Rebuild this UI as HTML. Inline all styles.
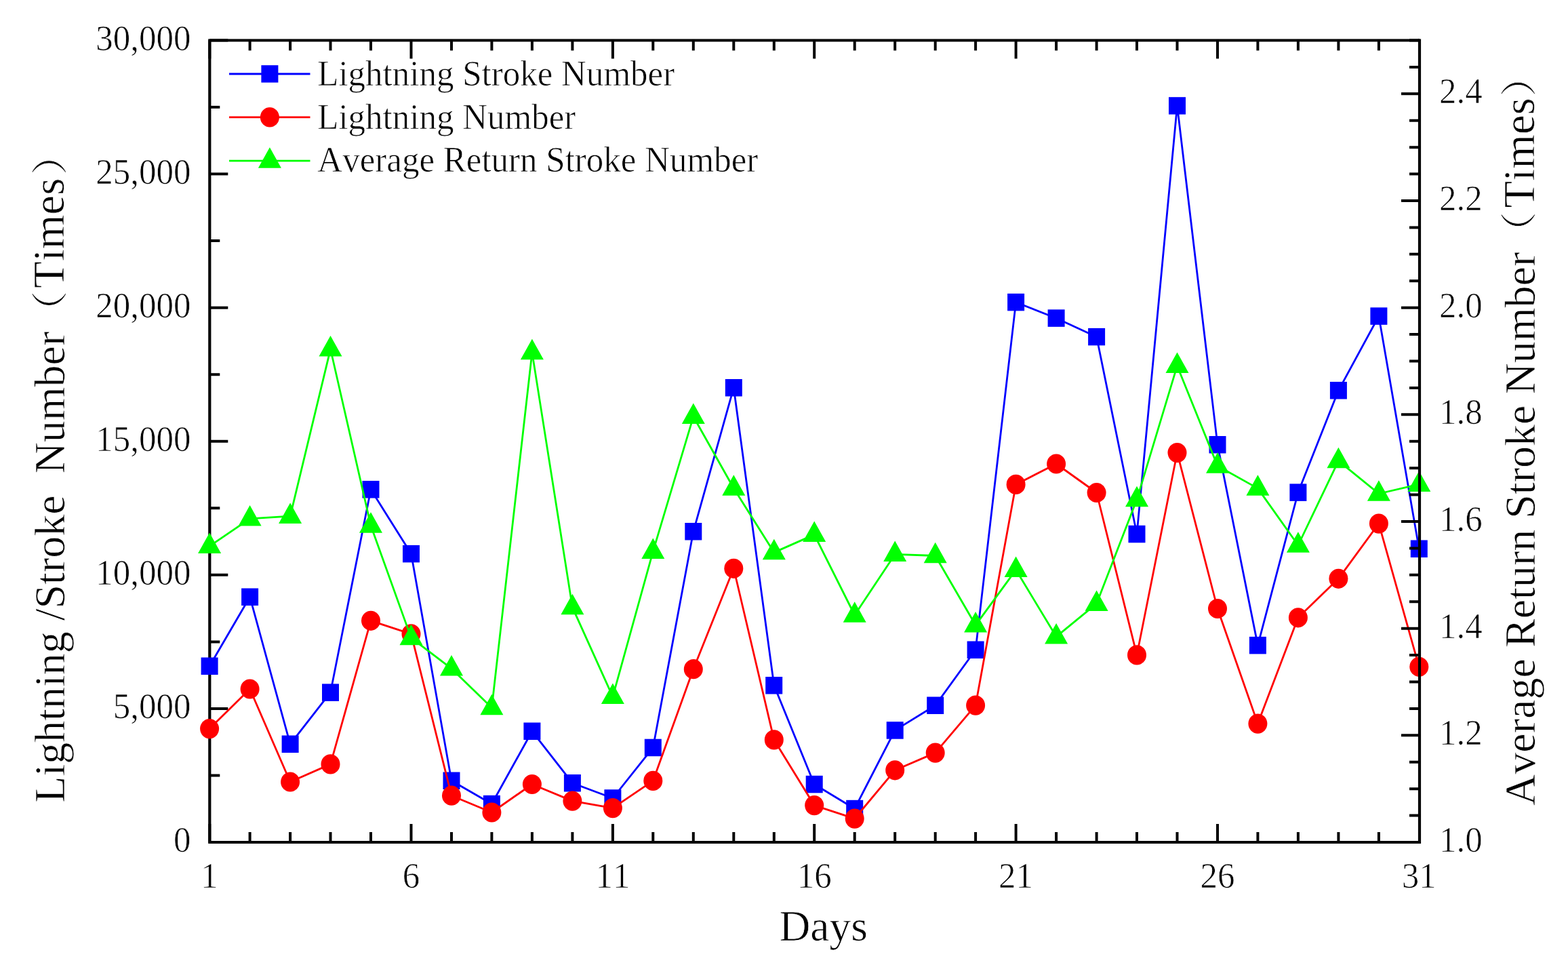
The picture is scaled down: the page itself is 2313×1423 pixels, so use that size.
<!DOCTYPE html>
<html><head><meta charset="utf-8"><style>
html,body{margin:0;padding:0;background:#fff;}
body{width:2313px;height:1423px;overflow:hidden;}
svg{display:block;}
text{white-space:pre;font-kerning:none;font-feature-settings:"kern" 0;font-family:"Liberation Serif","Noto Serif CJK SC",serif;fill:#000;stroke:#fff;stroke-width:0.7px;}
.cjk{font-family:"Noto Serif CJK SC","Liberation Serif",serif;}
</style></head><body>
<svg width="2313" height="1423" viewBox="0 0 2313 1423">
<rect width="2313" height="1423" fill="#fff"/>
<path d="M309.3,1242.0V1215.0M309.3,59.5V86.5M368.6,1242.0V1227.0M368.6,59.5V74.5M428.1,1242.0V1227.0M428.1,59.5V74.5M487.5,1242.0V1227.0M487.5,59.5V74.5M547.0,1242.0V1227.0M547.0,59.5V74.5M606.5,1242.0V1215.0M606.5,59.5V86.5M666.0,1242.0V1227.0M666.0,59.5V74.5M725.4,1242.0V1227.0M725.4,59.5V74.5M784.9,1242.0V1227.0M784.9,59.5V74.5M844.4,1242.0V1227.0M844.4,59.5V74.5M903.9,1242.0V1215.0M903.9,59.5V86.5M963.3,1242.0V1227.0M963.3,59.5V74.5M1022.8,1242.0V1227.0M1022.8,59.5V74.5M1082.3,1242.0V1227.0M1082.3,59.5V74.5M1141.8,1242.0V1227.0M1141.8,59.5V74.5M1201.2,1242.0V1215.0M1201.2,59.5V86.5M1260.7,1242.0V1227.0M1260.7,59.5V74.5M1320.2,1242.0V1227.0M1320.2,59.5V74.5M1379.7,1242.0V1227.0M1379.7,59.5V74.5M1439.1,1242.0V1227.0M1439.1,59.5V74.5M1498.6,1242.0V1215.0M1498.6,59.5V86.5M1558.1,1242.0V1227.0M1558.1,59.5V74.5M1617.6,1242.0V1227.0M1617.6,59.5V74.5M1677.0,1242.0V1227.0M1677.0,59.5V74.5M1736.5,1242.0V1227.0M1736.5,59.5V74.5M1796.0,1242.0V1215.0M1796.0,59.5V86.5M1855.4,1242.0V1227.0M1855.4,59.5V74.5M1914.9,1242.0V1227.0M1914.9,59.5V74.5M1974.4,1242.0V1227.0M1974.4,59.5V74.5M2033.9,1242.0V1227.0M2033.9,59.5V74.5M2094.0,1242.0V1215.0M2094.0,59.5V86.5M309.3,1242.0H336.3M309.3,1143.5H324.3M309.3,1044.9H336.3M309.3,946.4H324.3M309.3,847.8H336.3M309.3,749.3H324.3M309.3,650.8H336.3M309.3,552.2H324.3M309.3,453.7H336.3M309.3,355.1H324.3M309.3,256.6H336.3M309.3,158.0H324.3M309.3,59.5H336.3" stroke="#000" stroke-width="4.0" fill="none"/>
<path d="M2094.0,59.5H309.3V1242.0H2094.0" fill="none" stroke="#000" stroke-width="4.2" stroke-linejoin="miter"/>
<polyline points="309.1,982.3 368.6,880.2 428.1,1097.3 487.5,1021.1 547.0,721.8 606.5,816.6 666.0,1151.2 725.4,1185.5 784.9,1078.3 844.4,1154.7 903.9,1177.0 963.3,1102.4 1022.8,783.8 1082.3,571.7 1141.8,1010.7 1201.2,1156.5 1260.7,1192.5 1320.2,1076.9 1379.7,1040.3 1439.1,958.2 1498.6,445.7 1558.1,469.2 1617.6,496.7 1677.0,787.5 1736.5,156.0 1796.0,655.7 1855.4,951.6 1914.9,726.1 1974.4,575.8 2033.9,466.2 2093.3,809.3" fill="none" stroke="#0000ff" stroke-width="2.8" stroke-linejoin="round"/>
<rect x="296.6" y="969.5" width="25.0" height="25.5" fill="#0000ff"/><rect x="356.1" y="867.5" width="25.0" height="25.5" fill="#0000ff"/><rect x="415.6" y="1084.5" width="25.0" height="25.5" fill="#0000ff"/><rect x="475.0" y="1008.4" width="25.0" height="25.5" fill="#0000ff"/><rect x="534.5" y="709.0" width="25.0" height="25.5" fill="#0000ff"/><rect x="594.0" y="803.9" width="25.0" height="25.5" fill="#0000ff"/><rect x="653.5" y="1138.5" width="25.0" height="25.5" fill="#0000ff"/><rect x="712.9" y="1172.8" width="25.0" height="25.5" fill="#0000ff"/><rect x="772.4" y="1065.5" width="25.0" height="25.5" fill="#0000ff"/><rect x="831.9" y="1142.0" width="25.0" height="25.5" fill="#0000ff"/><rect x="891.4" y="1164.2" width="25.0" height="25.5" fill="#0000ff"/><rect x="950.8" y="1089.7" width="25.0" height="25.5" fill="#0000ff"/><rect x="1010.3" y="771.0" width="25.0" height="25.5" fill="#0000ff"/><rect x="1069.8" y="559.0" width="25.0" height="25.5" fill="#0000ff"/><rect x="1129.2" y="998.0" width="25.0" height="25.5" fill="#0000ff"/><rect x="1188.7" y="1143.8" width="25.0" height="25.5" fill="#0000ff"/><rect x="1248.2" y="1179.8" width="25.0" height="25.5" fill="#0000ff"/><rect x="1307.7" y="1064.2" width="25.0" height="25.5" fill="#0000ff"/><rect x="1367.2" y="1027.5" width="25.0" height="25.5" fill="#0000ff"/><rect x="1426.6" y="945.5" width="25.0" height="25.5" fill="#0000ff"/><rect x="1486.1" y="432.9" width="25.0" height="25.5" fill="#0000ff"/><rect x="1545.6" y="456.4" width="25.0" height="25.5" fill="#0000ff"/><rect x="1605.1" y="483.9" width="25.0" height="25.5" fill="#0000ff"/><rect x="1664.5" y="774.8" width="25.0" height="25.5" fill="#0000ff"/><rect x="1724.0" y="143.2" width="25.0" height="25.5" fill="#0000ff"/><rect x="1783.5" y="643.0" width="25.0" height="25.5" fill="#0000ff"/><rect x="1842.9" y="938.9" width="25.0" height="25.5" fill="#0000ff"/><rect x="1902.4" y="713.4" width="25.0" height="25.5" fill="#0000ff"/><rect x="1961.9" y="563.0" width="25.0" height="25.5" fill="#0000ff"/><rect x="2021.4" y="453.4" width="25.0" height="25.5" fill="#0000ff"/><rect x="2080.8" y="796.5" width="25.0" height="25.5" fill="#0000ff"/>
<polyline points="309.1,1074.6 368.6,1016.0 428.1,1153.0 487.5,1126.9 547.0,915.3 606.5,934.8 666.0,1173.2 725.4,1198.0 784.9,1156.5 844.4,1181.1 903.9,1191.6 963.3,1151.4 1022.8,986.7 1082.3,838.3 1141.8,1090.9 1201.2,1187.6 1260.7,1207.1 1320.2,1135.8 1379.7,1110.1 1439.1,1040.1 1498.6,714.4 1558.1,684.0 1617.6,726.5 1677.0,965.9 1736.5,667.6 1796.0,897.5 1855.4,1067.1 1914.9,910.8 1974.4,853.3 2033.9,772.1 2093.3,983.3" fill="none" stroke="#ff0000" stroke-width="2.8" stroke-linejoin="round"/>
<ellipse cx="309.1" cy="1074.6" rx="14.0" ry="14.6" fill="#ff0000"/><ellipse cx="368.6" cy="1016.0" rx="14.0" ry="14.6" fill="#ff0000"/><ellipse cx="428.1" cy="1153.0" rx="14.0" ry="14.6" fill="#ff0000"/><ellipse cx="487.5" cy="1126.9" rx="14.0" ry="14.6" fill="#ff0000"/><ellipse cx="547.0" cy="915.3" rx="14.0" ry="14.6" fill="#ff0000"/><ellipse cx="606.5" cy="934.8" rx="14.0" ry="14.6" fill="#ff0000"/><ellipse cx="666.0" cy="1173.2" rx="14.0" ry="14.6" fill="#ff0000"/><ellipse cx="725.4" cy="1198.0" rx="14.0" ry="14.6" fill="#ff0000"/><ellipse cx="784.9" cy="1156.5" rx="14.0" ry="14.6" fill="#ff0000"/><ellipse cx="844.4" cy="1181.1" rx="14.0" ry="14.6" fill="#ff0000"/><ellipse cx="903.9" cy="1191.6" rx="14.0" ry="14.6" fill="#ff0000"/><ellipse cx="963.3" cy="1151.4" rx="14.0" ry="14.6" fill="#ff0000"/><ellipse cx="1022.8" cy="986.7" rx="14.0" ry="14.6" fill="#ff0000"/><ellipse cx="1082.3" cy="838.3" rx="14.0" ry="14.6" fill="#ff0000"/><ellipse cx="1141.8" cy="1090.9" rx="14.0" ry="14.6" fill="#ff0000"/><ellipse cx="1201.2" cy="1187.6" rx="14.0" ry="14.6" fill="#ff0000"/><ellipse cx="1260.7" cy="1207.1" rx="14.0" ry="14.6" fill="#ff0000"/><ellipse cx="1320.2" cy="1135.8" rx="14.0" ry="14.6" fill="#ff0000"/><ellipse cx="1379.7" cy="1110.1" rx="14.0" ry="14.6" fill="#ff0000"/><ellipse cx="1439.1" cy="1040.1" rx="14.0" ry="14.6" fill="#ff0000"/><ellipse cx="1498.6" cy="714.4" rx="14.0" ry="14.6" fill="#ff0000"/><ellipse cx="1558.1" cy="684.0" rx="14.0" ry="14.6" fill="#ff0000"/><ellipse cx="1617.6" cy="726.5" rx="14.0" ry="14.6" fill="#ff0000"/><ellipse cx="1677.0" cy="965.9" rx="14.0" ry="14.6" fill="#ff0000"/><ellipse cx="1736.5" cy="667.6" rx="14.0" ry="14.6" fill="#ff0000"/><ellipse cx="1796.0" cy="897.5" rx="14.0" ry="14.6" fill="#ff0000"/><ellipse cx="1855.4" cy="1067.1" rx="14.0" ry="14.6" fill="#ff0000"/><ellipse cx="1914.9" cy="910.8" rx="14.0" ry="14.6" fill="#ff0000"/><ellipse cx="1974.4" cy="853.3" rx="14.0" ry="14.6" fill="#ff0000"/><ellipse cx="2033.9" cy="772.1" rx="14.0" ry="14.6" fill="#ff0000"/><ellipse cx="2093.3" cy="983.3" rx="14.0" ry="14.6" fill="#ff0000"/>
<polyline points="309.1,805.4 368.6,764.9 428.1,761.2 487.5,514.8 547.0,775.0 606.5,940.6 666.0,985.9 725.4,1043.6 784.9,519.6 844.4,895.6 903.9,1027.4 963.3,813.2 1022.8,614.3 1082.3,720.0 1141.8,814.6 1201.2,788.4 1260.7,907.0 1320.2,817.4 1379.7,819.5 1439.1,921.8 1498.6,840.3 1558.1,938.8 1617.6,890.2 1677.0,736.6 1736.5,539.4 1796.0,687.0 1855.4,720.1 1914.9,804.0 1974.4,679.6 2033.9,728.0 2093.3,714.2" fill="none" stroke="#00ff00" stroke-width="2.8" stroke-linejoin="round"/>
<polygon points="309.1,785.6 292.1,816.1 326.1,816.1" fill="#00ff00"/><polygon points="368.6,745.1 351.6,775.6 385.6,775.6" fill="#00ff00"/><polygon points="428.1,741.4 411.1,771.9 445.1,771.9" fill="#00ff00"/><polygon points="487.5,495.0 470.5,525.5 504.5,525.5" fill="#00ff00"/><polygon points="547.0,755.2 530.0,785.7 564.0,785.7" fill="#00ff00"/><polygon points="606.5,920.8 589.5,951.3 623.5,951.3" fill="#00ff00"/><polygon points="666.0,966.1 649.0,996.6 683.0,996.6" fill="#00ff00"/><polygon points="725.4,1023.8 708.4,1054.3 742.4,1054.3" fill="#00ff00"/><polygon points="784.9,499.8 767.9,530.3 801.9,530.3" fill="#00ff00"/><polygon points="844.4,875.8 827.4,906.3 861.4,906.3" fill="#00ff00"/><polygon points="903.9,1007.6 886.9,1038.1 920.9,1038.1" fill="#00ff00"/><polygon points="963.3,793.4 946.3,823.9 980.3,823.9" fill="#00ff00"/><polygon points="1022.8,594.5 1005.8,625.0 1039.8,625.0" fill="#00ff00"/><polygon points="1082.3,700.2 1065.3,730.7 1099.3,730.7" fill="#00ff00"/><polygon points="1141.8,794.8 1124.8,825.3 1158.8,825.3" fill="#00ff00"/><polygon points="1201.2,768.6 1184.2,799.1 1218.2,799.1" fill="#00ff00"/><polygon points="1260.7,887.2 1243.7,917.7 1277.7,917.7" fill="#00ff00"/><polygon points="1320.2,797.6 1303.2,828.1 1337.2,828.1" fill="#00ff00"/><polygon points="1379.7,799.7 1362.7,830.2 1396.7,830.2" fill="#00ff00"/><polygon points="1439.1,902.0 1422.1,932.5 1456.1,932.5" fill="#00ff00"/><polygon points="1498.6,820.5 1481.6,851.0 1515.6,851.0" fill="#00ff00"/><polygon points="1558.1,919.0 1541.1,949.5 1575.1,949.5" fill="#00ff00"/><polygon points="1617.6,870.4 1600.6,900.9 1634.6,900.9" fill="#00ff00"/><polygon points="1677.0,716.8 1660.0,747.3 1694.0,747.3" fill="#00ff00"/><polygon points="1736.5,519.6 1719.5,550.1 1753.5,550.1" fill="#00ff00"/><polygon points="1796.0,667.2 1779.0,697.7 1813.0,697.7" fill="#00ff00"/><polygon points="1855.4,700.3 1838.4,730.8 1872.4,730.8" fill="#00ff00"/><polygon points="1914.9,784.2 1897.9,814.7 1931.9,814.7" fill="#00ff00"/><polygon points="1974.4,659.8 1957.4,690.3 1991.4,690.3" fill="#00ff00"/><polygon points="2033.9,708.2 2016.9,738.7 2050.9,738.7" fill="#00ff00"/><polygon points="2093.3,694.4 2076.3,724.9 2110.3,724.9" fill="#00ff00"/>
<path d="M2094.0,1242.0H2067.0M2094.0,1202.6H2079.0M2094.0,1163.2H2079.0M2094.0,1123.8H2079.0M2094.0,1084.3H2067.0M2094.0,1044.9H2079.0M2094.0,1005.5H2079.0M2094.0,966.1H2079.0M2094.0,926.7H2067.0M2094.0,887.2H2079.0M2094.0,847.8H2079.0M2094.0,808.4H2079.0M2094.0,769.0H2067.0M2094.0,729.6H2079.0M2094.0,690.2H2079.0M2094.0,650.8H2079.0M2094.0,611.3H2067.0M2094.0,571.9H2079.0M2094.0,532.5H2079.0M2094.0,493.1H2079.0M2094.0,453.7H2067.0M2094.0,414.3H2079.0M2094.0,374.8H2079.0M2094.0,335.4H2079.0M2094.0,296.0H2067.0M2094.0,256.6H2079.0M2094.0,217.2H2079.0M2094.0,177.8H2079.0M2094.0,138.3H2067.0M2094.0,98.9H2079.0M2094.0,59.5H2079.0" stroke="#000" stroke-width="4.0" fill="none"/>
<path d="M2094.0,57.4V1244.1" stroke="#000" stroke-width="4.2"/>
<g font-size="51"><text transform="translate(281.5,1256.0) scale(1,1.045)" text-anchor="end">0</text><text transform="translate(281.5,1058.9) scale(1,1.045)" text-anchor="end">5,000</text><text transform="translate(281.5,861.8) scale(1,1.045)" text-anchor="end">10,000</text><text transform="translate(281.5,664.8) scale(1,1.045)" text-anchor="end">15,000</text><text transform="translate(281.5,467.7) scale(1,1.045)" text-anchor="end">20,000</text><text transform="translate(281.5,270.6) scale(1,1.045)" text-anchor="end">25,000</text><text transform="translate(281.5,73.5) scale(1,1.045)" text-anchor="end">30,000</text><text transform="translate(309.1,1309.0) scale(1,1.045)" text-anchor="middle">1</text><text transform="translate(606.5,1309.0) scale(1,1.045)" text-anchor="middle">6</text><text transform="translate(903.9,1309.0) scale(1,1.045)" text-anchor="middle">11</text><text transform="translate(1201.2,1309.0) scale(1,1.045)" text-anchor="middle">16</text><text transform="translate(1498.6,1309.0) scale(1,1.045)" text-anchor="middle">21</text><text transform="translate(1796.0,1309.0) scale(1,1.045)" text-anchor="middle">26</text><text transform="translate(2093.3,1309.0) scale(1,1.045)" text-anchor="middle">31</text><text transform="translate(2123.0,1256.0) scale(1,1.045)" text-anchor="start">1.0</text><text transform="translate(2123.0,1098.3) scale(1,1.045)" text-anchor="start">1.2</text><text transform="translate(2123.0,940.7) scale(1,1.045)" text-anchor="start">1.4</text><text transform="translate(2123.0,783.0) scale(1,1.045)" text-anchor="start">1.6</text><text transform="translate(2123.0,625.3) scale(1,1.045)" text-anchor="start">1.8</text><text transform="translate(2123.0,467.7) scale(1,1.045)" text-anchor="start">2.0</text><text transform="translate(2123.0,310.0) scale(1,1.045)" text-anchor="start">2.2</text><text transform="translate(2123.0,152.3) scale(1,1.045)" text-anchor="start">2.4</text></g>
<text transform="translate(1149.5,1386.7) scale(1,1.0)" text-anchor="start" font-size="63.5">Days</text>
<text transform="translate(94.5,1183.7) rotate(-90) scale(1.0,1)" font-size="64">Lightning /Stroke  Number</text>
<text transform="translate(92.7,490.8) rotate(-90) scale(1.15,1)" font-size="54" class="cjk">（</text>
<text transform="translate(94.0,425.0) rotate(-90) scale(1.0,1)" font-size="65">Times</text>
<text transform="translate(92.7,258.6) rotate(-90) scale(1.15,1)" font-size="54" class="cjk">）</text>
<text transform="translate(2263.8,1188.0) rotate(-90) scale(1.0,1)" font-size="64.05">Average Return Stroke Number</text>
<text transform="translate(2260.4,374.1) rotate(-90) scale(1.15,1)" font-size="54" class="cjk">（</text>
<text transform="translate(2263.0,306.6) rotate(-90) scale(1.0,1)" font-size="65">Times</text>
<text transform="translate(2260.4,142.9) rotate(-90) scale(1.15,1)" font-size="54" class="cjk">）</text>
<line x1="338" y1="109.0" x2="457.5" y2="109.0" stroke="#0000ff" stroke-width="2.8"/><rect x="385.4" y="96.2" width="25.0" height="25.5" fill="#0000ff"/><text transform="translate(468.3,126.3) scale(1,1.045)" text-anchor="start" font-size="51">Lightning Stroke Number</text><line x1="338" y1="172.9" x2="457.5" y2="172.9" stroke="#ff0000" stroke-width="2.8"/><ellipse cx="397.9" cy="172.9" rx="14.0" ry="14.6" fill="#ff0000"/><text transform="translate(468.3,189.8) scale(1,1.045)" text-anchor="start" font-size="51">Lightning Number</text><line x1="338" y1="237.1" x2="457.5" y2="237.1" stroke="#00ff00" stroke-width="2.8"/><polygon points="397.9,217.3 380.9,247.8 414.9,247.8" fill="#00ff00"/><text transform="translate(468.3,253.3) scale(1,1.045)" text-anchor="start" font-size="51">Average Return Stroke Number</text>
</svg>
</body></html>
